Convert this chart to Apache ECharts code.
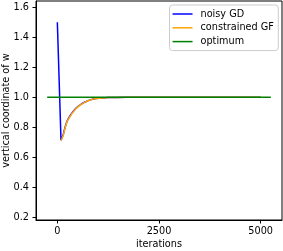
<!DOCTYPE html>
<html>
<head>
<meta charset="utf-8">
<script src="https://cdn.jsdelivr.net/npm/echarts@6/dist/echarts.min.js"></script>
<style>
html,body{margin:0;padding:0;background:#fff;}
#c{width:283px;height:251px;}
</style>
</head>
<body>
<div id="c"></div>
<script>
// ---- data ----
const seriesNames = ['noisy GD', 'constrained GF', 'optimum'];
const noisyIter = [0, 90, 110, 130, 150, 180, 210, 240, 280, 330, 390, 450, 520, 600, 680, 760, 840, 920, 1000, 1100, 1250, 1450, 1700, 5000];
const noisyVal  = [1.5, 0.713, 0.726, 0.741, 0.757, 0.790, 0.819, 0.842, 0.862, 0.884, 0.906, 0.925, 0.942, 0.957, 0.969, 0.978, 0.986, 0.990, 0.993, 0.996, 0.998, 0.999, 1.0, 1.0];
const gfIter = [90, 110, 130, 150, 180, 210, 240, 280, 330, 390, 450, 520, 600, 680, 760, 840, 920, 1000, 1100, 1250, 1450, 1700, 5000];
const gfVal  = [0.713, 0.722, 0.737, 0.752, 0.785, 0.815, 0.838, 0.858, 0.880, 0.903, 0.922, 0.940, 0.955, 0.968, 0.977, 0.985, 0.990, 0.993, 0.996, 0.998, 0.999, 1.0, 1.0];
const optIter = [-250, 5250];
const optVal  = [1.0, 1.0];
const xTicks = [0, 2500, 5000];
const yTicks = [0.2, 0.4, 0.6, 0.8, 1.0, 1.2, 1.4, 1.6];

const pairs = (xs, ys) => xs.map((x, i) => [x, ys[i]]);
const FONT = 'DejaVu Sans';
const FS = 9.7;

const chart = echarts.init(document.getElementById('c'), null, {renderer: 'canvas'});
chart.setOption({
  animation: false,
  backgroundColor: '#fff',
  grid: {left: 36, right: 1, top: 1, bottom: 31, containLabel: false, outerBoundsMode: 'none',
    show: true, borderColor: '#000', borderWidth: 1, backgroundColor: 'transparent'},
  legend: {
    orient: 'vertical',
    right: 4.7, top: 5,
    padding: [3.5, 4.5, 3.5, 3],
    itemWidth: 20, itemHeight: 1.5, itemGap: 2.8,
    icon: 'rect',
    borderColor: '#cccccc', borderWidth: 1, borderRadius: 3,
    backgroundColor: 'rgba(255,255,255,0.8)',
    textStyle: {fontFamily: FONT, fontSize: FS, color: '#000', lineHeight: 11, padding: [0, 0, 0, 3]},
    data: seriesNames
  },
  xAxis: {
    type: 'value', min: -525, max: 5525,
    name: 'iterations', nameLocation: 'middle', nameGap: 19, nameMoveOverlap: false,
    nameTextStyle: {fontFamily: FONT, fontSize: FS, color: '#000'},
    axisLine: {show: true, onZero: false, lineStyle: {color: '#000', width: 1}},
    axisTick: {show: true, length: 3.5, lineStyle: {color: '#000'}, customValues: xTicks},
    axisLabel: {fontFamily: FONT, fontSize: FS, color: '#000', margin: 6, customValues: xTicks,
      formatter: v => String(v)},
    splitLine: {show: false}
  },
  yAxis: {
    type: 'value', min: 0.182, max: 1.642,
    name: 'vertical coordinate of w', nameLocation: 'middle', nameGap: 25, nameMoveOverlap: false,
    nameTextStyle: {fontFamily: FONT, fontSize: FS, color: '#000'},
    axisLine: {show: true, onZero: false, lineStyle: {color: '#000', width: 1}},
    axisTick: {show: true, length: 3.5, lineStyle: {color: '#000'}, customValues: yTicks},
    axisLabel: {fontFamily: FONT, fontSize: FS, color: '#000', margin: 7, customValues: yTicks,
      formatter: v => v.toFixed(1)},
    splitLine: {show: false}
  },
  series: [
    {name: seriesNames[0], type: 'line', data: pairs(noisyIter, noisyVal), showSymbol: false, symbol: 'none',
     lineStyle: {color: '#0000ff', width: 1.5}, itemStyle: {color: '#0000ff'}},
    {name: seriesNames[1], type: 'line', data: pairs(gfIter, gfVal), showSymbol: false, symbol: 'none', smooth: 0.3,
     lineStyle: {color: '#ffa500', width: 1.5}, itemStyle: {color: '#ffa500'}},
    {name: seriesNames[2], type: 'line', data: pairs(optIter, optVal), showSymbol: false, symbol: 'none',
     lineStyle: {color: '#008000', width: 1.5}, itemStyle: {color: '#008000'}}
  ]
});
</script>
</body>
</html>
